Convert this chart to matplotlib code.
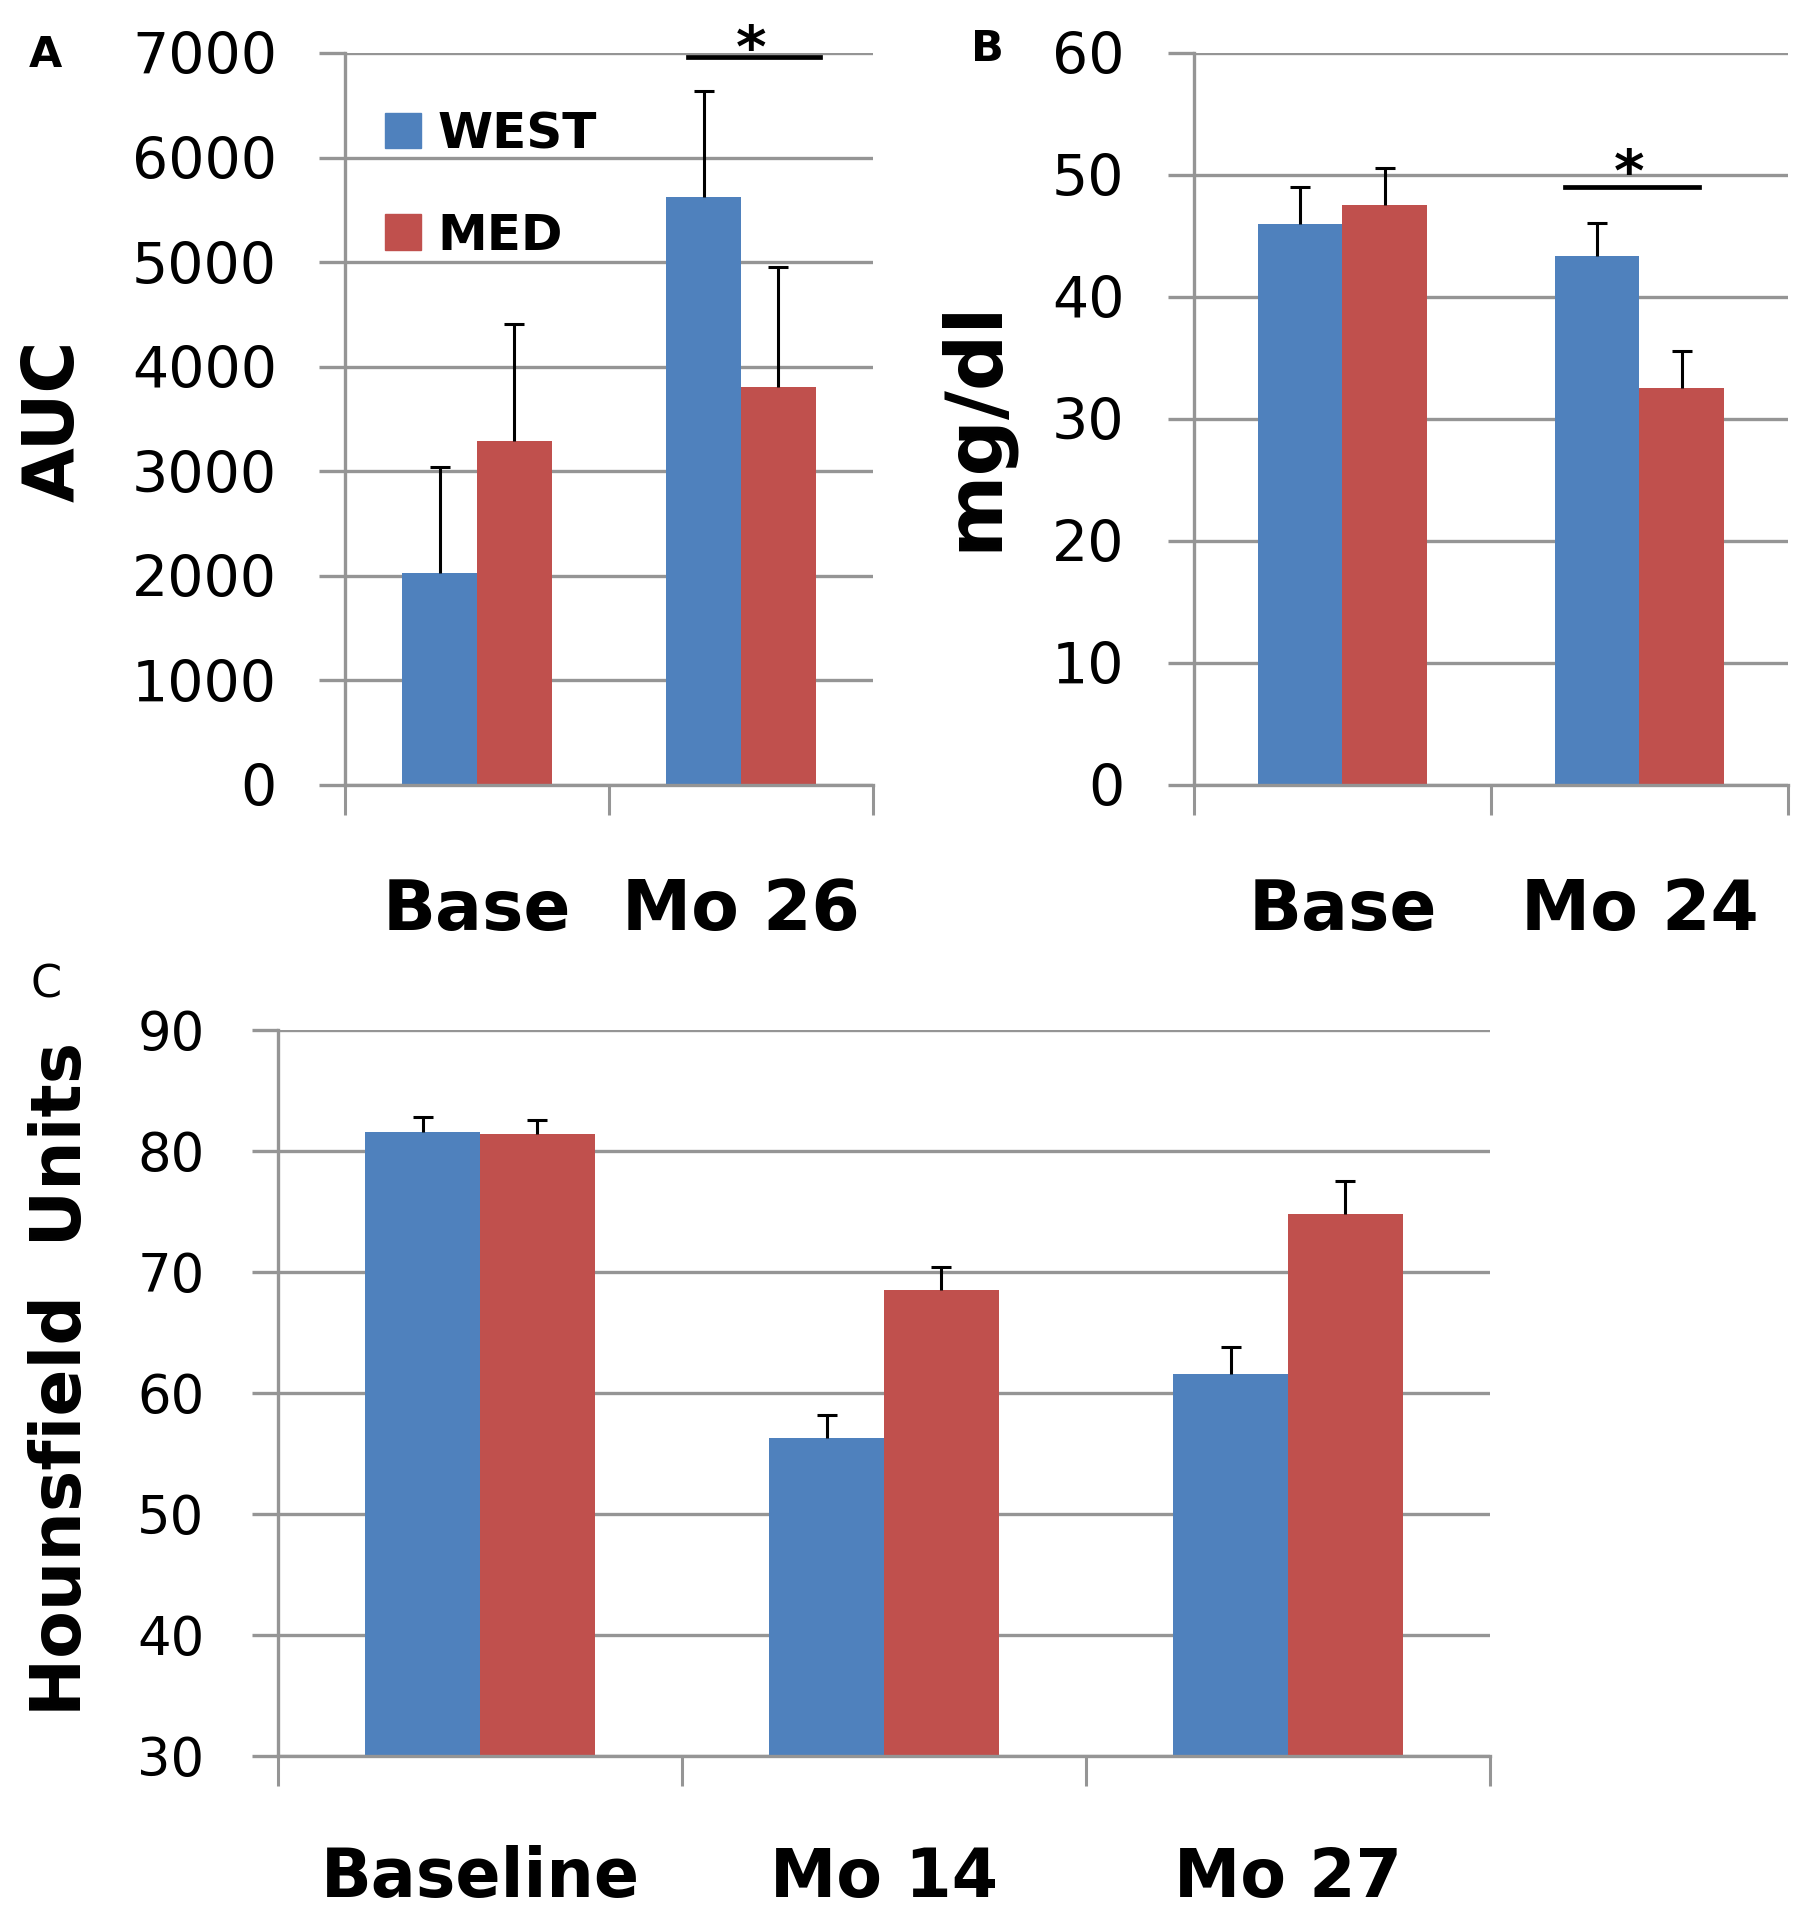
import numpy as np
import matplotlib
matplotlib.use("Agg")
import matplotlib.pyplot as plt
from matplotlib.patches import Patch

# ---- data ----
series_names = ["WEST", "MED"]

a_cats = ["Base", "Mo 26"]
a_west = [2030, 5625]
a_west_err = [1015, 1015]
a_med = [3290, 3810]
a_med_err = [1120, 1140]
a_ticks = [0, 1000, 2000, 3000, 4000, 5000, 6000, 7000]

b_cats = ["Base", "Mo 24"]
b_west = [46.0, 43.4]
b_west_err = [3.0, 2.7]
b_med = [47.5, 32.5]
b_med_err = [3.1, 3.1]
b_ticks = [0, 10, 20, 30, 40, 50, 60]

c_cats = ["Baseline", "Mo 14", "Mo 27"]
c_west = [81.6, 56.3, 61.6]
c_west_err = [1.2, 1.9, 2.2]
c_med = [81.4, 68.5, 74.8]
c_med_err = [1.2, 1.9, 2.7]
c_ticks = [30, 40, 50, 60, 70, 80, 90]

BLUE = "#4F81BD"
RED = "#C0504D"
GRID = "#959595"
BAR_W = 0.284


def upper_err(ax, x, y, err):
    # Excel style: only the plus side, cap on top
    _, caps, _ = ax.errorbar(x, y, yerr=[np.zeros(len(x)), err], fmt="none",
                             ecolor="black", elinewidth=2.2, capsize=7, capthick=2.2, zorder=3)
    caps[0].set_visible(False)


def bar_panel(ax, cats, west, west_err, med, med_err, ticks, ytick_size, ytick_pad, xlab_size, xlab_pad):
    x = np.arange(len(cats))
    ax.bar(x - BAR_W / 2, west, BAR_W, color=BLUE, zorder=2)
    ax.bar(x + BAR_W / 2, med, BAR_W, color=RED, zorder=2)
    upper_err(ax, x - BAR_W / 2, west, west_err)
    upper_err(ax, x + BAR_W / 2, med, med_err)

    ax.set_xlim(-0.5, len(cats) - 0.5)
    ax.set_ylim(ticks[0], ticks[-1])
    ax.set_yticks(ticks)
    ax.yaxis.grid(True, color=GRID, lw=2.4)
    ax.set_axisbelow(True)

    # category boundaries as major ticks, labels on minor ticks
    ax.set_xticks(np.arange(len(cats) + 1) - 0.5)
    ax.set_xticklabels([])
    ax.set_xticks(x, minor=True)
    ax.set_xticklabels(cats, minor=True, fontsize=xlab_size, fontweight="bold")
    ax.tick_params(axis="x", which="major", direction="out", length=21.6, width=2.2, color=GRID)
    ax.tick_params(axis="x", which="minor", length=0, pad=xlab_pad)
    ax.tick_params(axis="y", direction="out", length=19, width=2.4, color=GRID,
                   labelsize=ytick_size, pad=ytick_pad)

    for s in ["top", "right"]:
        ax.spines[s].set_visible(False)
    for s in ["left", "bottom"]:
        ax.spines[s].set_color(GRID)
        ax.spines[s].set_linewidth(2.4)


def sig_mark(ax, x0, x1, y, ystar):
    ax.plot([x0, x1], [y, y], color="black", lw=3.4, clip_on=False, zorder=4)
    ax.text((x0 + x1) / 2 - 0.01, ystar, "*", ha="center", va="center",
            fontsize=42, fontweight="bold", clip_on=False)


fig = plt.figure(figsize=(18.06, 19.2), dpi=100)

axA = fig.add_axes([0.19103, 0.59115, 0.29236, 0.38125])
bar_panel(axA, a_cats, a_west, a_west_err, a_med, a_med_err, a_ticks, 41, 30, 50, 66)
sig_mark(axA, 0.80, 1.30, 6960, 7020)
axA.legend(handles=[Patch(color=BLUE), Patch(color=RED)], labels=series_names,
           loc="upper left", bbox_to_anchor=(0.075, 0.922), frameon=False,
           prop={"size": 36, "weight": "bold"}, handlelength=0.72, handleheight=0.72,
           handletextpad=0.34, labelspacing=1.07, borderpad=0, borderaxespad=0)

axB = fig.add_axes([0.66113, 0.59115, 0.32890, 0.38125])
bar_panel(axB, b_cats, b_west, b_west_err, b_med, b_med_err, b_ticks, 41, 31, 50, 66)
sig_mark(axB, 0.75, 1.20, 49.0, 50.0)

axC = fig.add_axes([0.15393, 0.08542, 0.67110, 0.378125])
bar_panel(axC, c_cats, c_west, c_west_err, c_med, c_med_err, c_ticks, 38, 34, 48, 64)

# axis titles and panel letters
fig.text(0.0299, 0.7807, "AUC", rotation=90, ha="center", va="center",
         fontsize=51, fontweight="bold")
fig.text(0.5393, 0.7786, "mg/dl", rotation=90, ha="center", va="center",
         fontsize=57, fontweight="bold")
fig.text(0.0338, 0.2818, "Hounsfield  Units", rotation=90, ha="center", va="center",
         fontsize=50, fontweight="bold")
fig.text(0.0249, 0.9714, "A", ha="center", va="center", fontsize=31, fontweight="bold")
fig.text(0.5465, 0.9745, "B", ha="center", va="center", fontsize=31, fontweight="bold")
fig.text(0.0255, 0.4870, "C", ha="center", va="center", fontsize=32)

fig.savefig("out.png", dpi=100)
